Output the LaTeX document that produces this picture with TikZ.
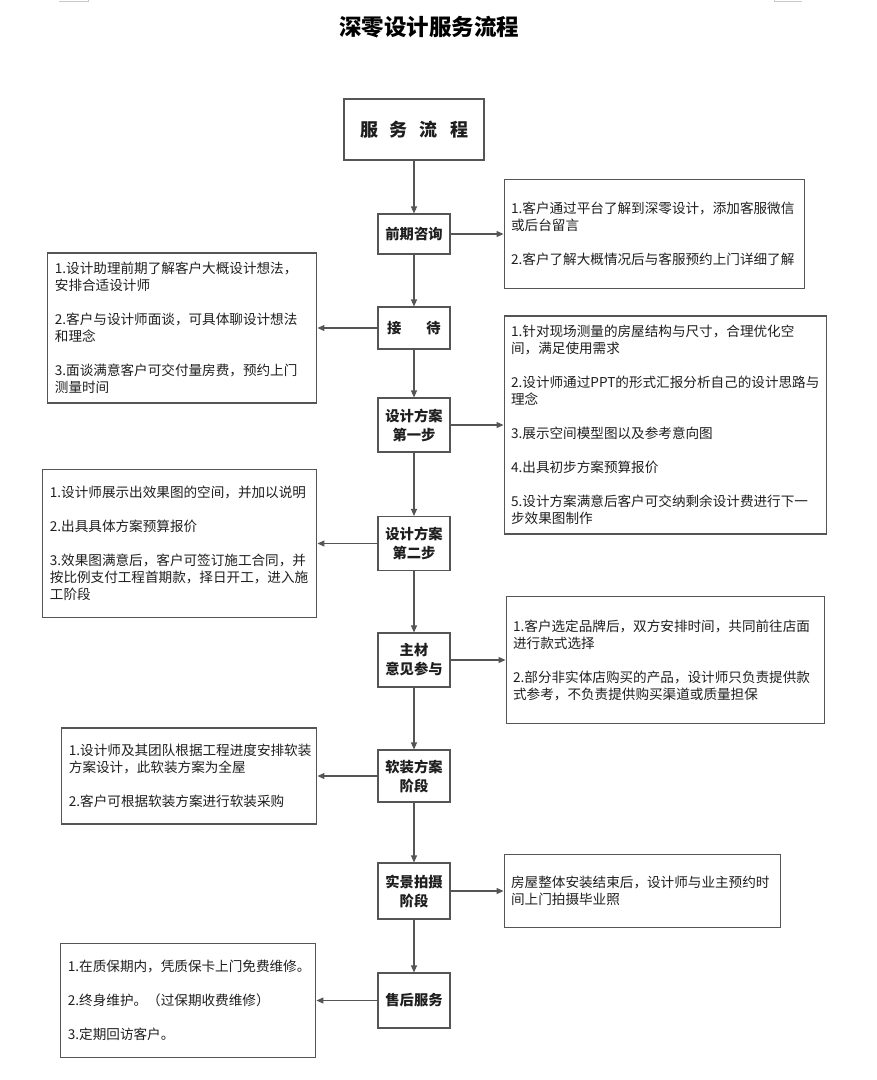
\documentclass[tikz,border=0pt]{standalone}
\usepackage{fontspec}
\setmainfont{Noto Sans CJK SC}
\usetikzlibrary{arrows.meta,positioning}
\definecolor{cLine}{RGB}{85,85,85}
\definecolor{cText}{RGB}{30,30,30}
\definecolor{cMark}{RGB}{200,200,200}
\tikzset{
  basebox/.style={rectangle,draw=cLine,line width=1.1pt,text=cText},
  stepnode/.style={basebox,align=center,minimum width=72pt,inner sep=2pt,
                   font=\fontsize{14.3}{19}\selectfont\bfseries},
  notenode/.style={basebox,align=left,inner xsep=7pt,inner ysep=4pt,
                   font=\fontsize{13.6}{17}\selectfont},
  arr/.style={-{Triangle[length=7pt,width=6pt]},line width=1.1pt,color=cLine}
}
\newcommand{\itemgap}{\\[17pt]}

\begin{document}
\begin{tikzpicture}[x=1pt,y=-1pt]
  \useasboundingbox (0,0) rectangle (877,1080);

  \draw[cMark,line width=0.8pt] (59,1.5) -- (88,1.5) -- (88,0);
  \draw[cMark,line width=0.8pt] (802,1.5) -- (774,1.5) -- (774,0);

  \node[font=\fontsize{22.5}{26}\selectfont\bfseries] (title) at (429,27)
      {深零设计服务流程};

  \node[basebox,minimum width=140pt,minimum height=61pt,
        font=\fontsize{18}{22}\selectfont\bfseries] (top) at (414,129.5)
      {服\hspace{12pt}务\hspace{12pt}流\hspace{12pt}程};

  \node[stepnode,minimum height=40pt] (qian)    at (414,234)   {前期咨询};
  \node[stepnode,minimum height=42pt] (jie)     at (414,328)   {接\hspace{25pt}待};
  \node[stepnode,minimum height=54pt] (fa1)     at (414,425)   {设计方案\\第一步};
  \node[stepnode,minimum height=54pt] (fa2)     at (414,543.5) {设计方案\\第二步};
  \node[stepnode,minimum height=54pt] (zhucai)  at (414,660)   {主材\\意见参与};
  \node[stepnode,minimum height=52pt] (ruan)    at (414,776)   {软装方案\\阶段};
  \node[stepnode,minimum height=56pt] (shijing) at (414,891)   {实景拍摄\\阶段};
  \node[stepnode,minimum height=55pt] (shouhou) at (414,1000.5) {售后服务};

  \node[notenode,text width=286pt,minimum height=109pt,right=53pt of qian] (nqian)
      {1.客户通过平台了解到深零设计，添加客服微信\\或后台留言\itemgap
       2.客户了解大概情况后与客服预约上门详细了解};

  \node[notenode,text width=255pt,minimum height=150pt,left=60pt of jie] (njie)
      {1.设计助理前期了解客户大概设计想法，\\安排合适设计师\itemgap
       2.客户与设计师面谈，可具体聊设计想法\\和理念\itemgap
       3.面谈满意客户可交付量房费，预约上门\\测量时间};

  \node[notenode,text width=308pt,minimum height=218pt,right=53pt of fa1] (nfa1)
      {1.针对现场测量的房屋结构与尺寸，合理优化空\\间，满足使用需求\itemgap
       2.设计师通过PPT的形式汇报分析自己的设计思路与\\理念\itemgap
       3.展示空间模型图以及参考意向图\itemgap
       4.出具初步方案预算报价\itemgap
       5.设计方案满意后客户可交纳剩余设计费进行下一\\步效果图制作};

  \node[notenode,text width=260pt,minimum height=148pt,left=60pt of fa2] (nfa2)
      {1.设计师展示出效果图的空间，并加以说明\itemgap
       2.出具具体方案预算报价\itemgap
       3.效果图满意后，客户可签订施工合同，并\\按比例支付工程首期款，择日开工，进入施\\工阶段};

  \node[notenode,text width=304pt,minimum height=127pt,right=55pt of zhucai] (nzhucai)
      {1.客户选定品牌后，双方安排时间，共同前往店面\\进行款式选择\itemgap
       2.部分非实体店购买的产品，设计师只负责提供款\\式参考，不负责提供购买渠道或质量担保};

  \node[notenode,text width=241pt,minimum height=96pt,left=60pt of ruan] (nruan)
      {1.设计师及其团队根据工程进度安排软装\\方案设计，此软装方案为全屋\itemgap
       2.客户可根据软装方案进行软装采购};

  \node[notenode,text width=262pt,minimum height=73pt,right=53pt of shijing] (nshijing)
      {房屋整体安装结束后，设计师与业主预约时\\间上门拍摄毕业照};

  \node[notenode,text width=241pt,minimum height=114pt,left=61pt of shouhou] (nshouhou)
      {1.在质保期内，凭质保卡上门免费维修。\itemgap
       2.终身维护。（过保期收费维修）\itemgap
       3.定期回访客户。};

  \foreach \f/\t in {top/qian,qian/jie,jie/fa1,fa1/fa2,fa2/zhucai,
                     zhucai/ruan,ruan/shijing,shijing/shouhou}
    \draw[arr] (\f) -- (\t);

  \foreach \f/\t in {qian/nqian,jie/njie,fa1/nfa1,fa2/nfa2,zhucai/nzhucai,
                     ruan/nruan,shijing/nshijing,shouhou/nshouhou}
    \draw[arr] (\f) -- (\t);

\end{tikzpicture}
\end{document}
